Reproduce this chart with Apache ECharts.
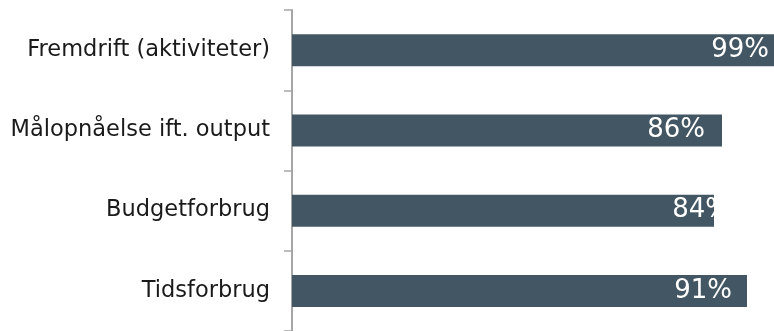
<!DOCTYPE html>
<html><head><meta charset="utf-8">
<script src="https://cdn.jsdelivr.net/npm/echarts@6/dist/echarts.min.js"></script>
<style>html,body{margin:0;padding:0;background:#fff}#c{width:774px;height:331px}</style>
</head><body><div id="c"></div>
<script>
const categories = ['Fremdrift (aktiviteter)', 'Målopnåelse ift. output', 'Budgetforbrug', 'Tidsforbrug'];
const values = [99, 86, 84.4, 91];
const labels = ['99%', '86%', '84%', '91%'];
const labelShift = [12, 0, 33, 2];

const chart = echarts.init(document.getElementById('c'));
chart.setOption({
  animation: false,
  grid: { left: 292, right: 0, top: 10, bottom: -3, containLabel: false },
  xAxis: { type: 'value', min: 0, max: 96.4, show: false },
  yAxis: {
    type: 'category', inverse: true, data: categories,
    axisLine: { lineStyle: { color: '#a6a6a6', width: 2 } },
    axisTick: { show: true, length: 8, lineStyle: { color: '#a6a6a6', width: 1.5 } },
    axisLabel: { fontFamily: 'DejaVu Sans', fontSize: 22.5, color: '#1a1a1a', margin: 22 }
  },
  series: [{
    type: 'bar', barWidth: 32, clip: true,
    data: values.map((v, i) => ({
      value: v,
      label: { formatter: labels[i], offset: [labelShift[i], 0] }
    })),
    itemStyle: { color: '#435663' },
    label: { show: true, position: 'insideRight', distance: 17, fontFamily: 'DejaVu Sans', fontSize: 26, color: '#ffffff' }
  }]
});
</script></body></html>
